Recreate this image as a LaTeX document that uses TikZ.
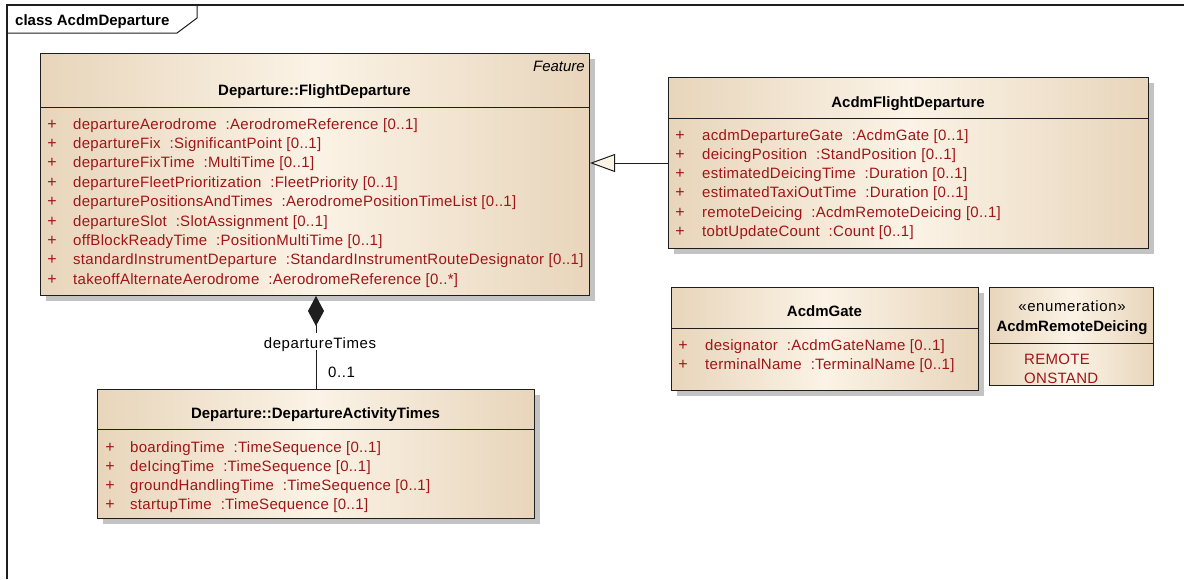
\documentclass[tikz,border=0pt]{standalone}
\usepackage{fontspec}
\setmainfont{Liberation Sans}
\newfontfamily\attrfont{Liberation Sans}[LetterSpace=2]
\newfontfamily\labelfont{Liberation Sans}[LetterSpace=4]
\usetikzlibrary{arrows.meta,shadows}

\definecolor{umltan}{RGB}{232,213,187}
\definecolor{umlcream}{RGB}{251,243,230}
\definecolor{attrred}{RGB}{158,22,22}
\definecolor{shadowgray}{RGB}{195,195,195}
\definecolor{edgeblack}{RGB}{30,30,30}

\tikzset{
  classfill/.style={draw=edgeblack, line width=1pt, left color=umltan,
    right color=umltan, middle color=umlcream, anchor=north west, inner sep=0pt},
  classbox/.style={classfill, drop shadow={shadow xshift=5pt, shadow yshift=-5pt,
    fill=shadowgray, opacity=1}},
  sepline/.style={draw=edgeblack, line width=1pt},
  title/.style={anchor=base, inner sep=0pt, font=\bfseries\fontsize{15}{18}\selectfont},
  stereo/.style={anchor=base, inner sep=0pt, font=\labelfont\fontsize{15}{18}\selectfont},
  attr/.style={anchor=base west, inner sep=0pt, text=attrred,
    font=\attrfont\fontsize{15}{18}\selectfont},
  plus/.style={anchor=base, inner sep=0pt, text=attrred,
    font=\fontsize{16}{18}\selectfont},
  connector/.style={draw=edgeblack, line width=1pt},
  rolelabel/.style={inner sep=0pt, font=\labelfont\fontsize{15}{18}\selectfont}
}

\begin{document}
\begin{tikzpicture}[x=1pt,y=-1pt]
\useasboundingbox (0,0) rectangle (1184,579);

% diagram frame and its name tab
\draw[draw=edgeblack, line width=1.2pt] (7,579) -- (7,5) -- (1184,5);
\draw[draw=edgeblack, line width=1pt] (7,5) -- (197,5) -- (197,18) -- (177,33) -- (7,33);
\node[anchor=base west, inner sep=0pt, font=\bfseries\fontsize{15}{18}\selectfont]
  (frametitle) at (15,25) {class AcdmDeparture};

% ---------- Departure::FlightDeparture ----------
\node[classbox, minimum width=549, minimum height=242] (fd) at (40,53) {};
\draw[sepline] (40,107) -- (589,107);
\node[anchor=base east, inner sep=0pt, font=\itshape\fontsize{15}{18}\selectfont]
  (fdstereo) at (585,71) {Feature};
\node[title] (fdtitle) at (314.5,95) {Departure::FlightDeparture};
\foreach \t [count=\i from 0] in {
  {departureAerodrome\ \ :AerodromeReference [0..1]},
  {departureFix\ \ :SignificantPoint [0..1]},
  {departureFixTime\ \ :MultiTime [0..1]},
  {departureFleetPrioritization\ \ :FleetPriority [0..1]},
  {departurePositionsAndTimes\ \ :AerodromePositionTimeList [0..1]},
  {departureSlot\ \ :SlotAssignment [0..1]},
  {offBlockReadyTime\ \ :PositionMultiTime [0..1]},
  {standardInstrumentDeparture\ \ :StandardInstrumentRouteDesignator [0..1]},
  {takeoffAlternateAerodrome\ \ :AerodromeReference [0..*]}} {
  \node[plus] (fdplus\i) at (52,{129+19.4*\i}) {+};
  \node[attr] (fdattr\i) at (73,{129+19.4*\i}) {\t};
}

% ---------- AcdmFlightDeparture ----------
\node[classbox, minimum width=480, minimum height=171] (afd) at (668,77) {};
\draw[sepline] (668,118) -- (1148,118);
\node[title] (afdtitle) at (908,107) {AcdmFlightDeparture};
\foreach \t [count=\i from 0] in {
  {acdmDepartureGate\ \ :AcdmGate [0..1]},
  {deicingPosition\ \ :StandPosition [0..1]},
  {estimatedDeicingTime\ \ :Duration [0..1]},
  {estimatedTaxiOutTime\ \ :Duration [0..1]},
  {remoteDeicing\ \ :AcdmRemoteDeicing [0..1]},
  {tobtUpdateCount\ \ :Count [0..1]}} {
  \node[plus] (afdplus\i) at (680,{140+19.3*\i}) {+};
  \node[attr] (afdattr\i) at (702,{140+19.3*\i}) {\t};
}

% ---------- Departure::DepartureActivityTimes ----------
\node[classbox, minimum width=437, minimum height=129] (dat) at (97,389) {};
\draw[sepline] (97,429) -- (534,429);
\node[title] (dattitle) at (315.5,418) {Departure::DepartureActivityTimes};
\foreach \t [count=\i from 0] in {
  {boardingTime\ \ :TimeSequence [0..1]},
  {deIcingTime\ \ :TimeSequence [0..1]},
  {groundHandlingTime\ \ :TimeSequence [0..1]},
  {startupTime\ \ :TimeSequence [0..1]}} {
  \node[plus] (datplus\i) at (110,{452+19.3*\i}) {+};
  \node[attr] (datattr\i) at (130,{452+19.3*\i}) {\t};
}

% ---------- AcdmGate ----------
\node[classbox, minimum width=307, minimum height=103] (gate) at (671,287) {};
\draw[sepline] (671,328) -- (978,328);
\node[title] (gatetitle) at (824.5,316) {AcdmGate};
\foreach \t [count=\i from 0] in {
  {designator\ \ :AcdmGateName [0..1]},
  {terminalName\ \ :TerminalName [0..1]}} {
  \node[plus] (gateplus\i) at (683,{350+19.3*\i}) {+};
  \node[attr] (gateattr\i) at (705,{350+19.3*\i}) {\t};
}

% ---------- AcdmRemoteDeicing enumeration ----------
\node[classfill, minimum width=164, minimum height=98] (enum) at (989,287) {};
\draw[sepline] (989,343) -- (1153,343);
\node[stereo] (enumstereo) at (1072,311) {«enumeration»};
\node[title] (enumtitle) at (1072,331) {AcdmRemoteDeicing};
\node[attr] (enumlit0) at (1024,364) {REMOTE};
\node[attr] (enumlit1) at (1024,383) {ONSTAND};

% ---------- relationships ----------
\coordinate (genrow) at (0,163);
\draw[connector, -{Triangle[open, length=25pt, width=18pt, fill=umlcream]}]
  (afd.west |- genrow) -- (fd.east |- genrow);

\coordinate (compcol) at (316,0);
\draw[connector, {Diamond[length=30pt, width=16pt]}-]
  (fd.south -| compcol) -- (dat.north -| compcol);
\node[rolelabel, fill=white, inner xsep=2pt, text height=15pt, text depth=2pt, anchor=base]
  (roledep) at (320,348) {departureTimes};
\node[rolelabel, anchor=base west] (multdep) at (328,377) {0..1};
\end{tikzpicture}
\end{document}
